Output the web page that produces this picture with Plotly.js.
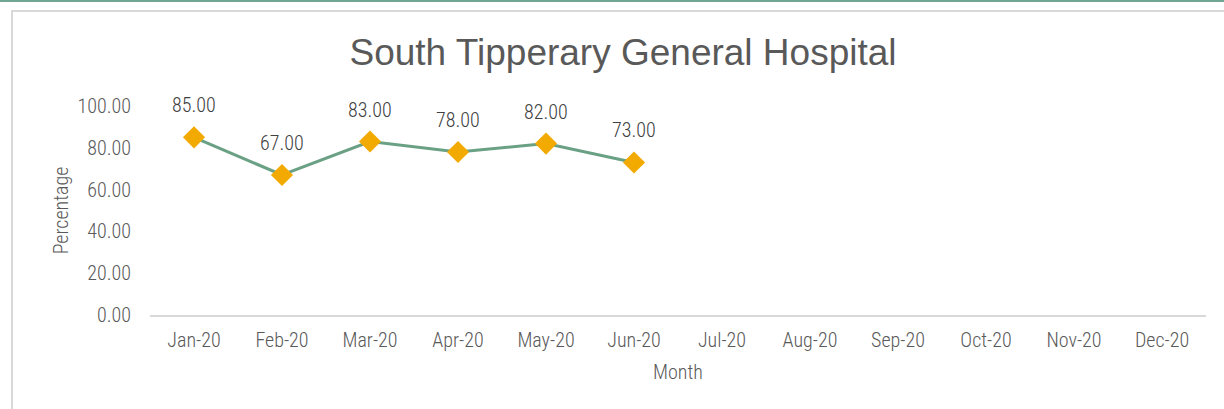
<!DOCTYPE html>
<html>
<head>
<meta charset="utf-8">
<script src="https://cdn.plot.ly/plotly-3.0.1.min.js"></script>
<style>
html,body{margin:0;padding:0;background:#fff;}
#wrap{position:relative;width:1224px;height:409px;overflow:hidden;}
#chart{position:absolute;left:0;top:0;width:1224px;height:409px;}
#teal{position:absolute;left:0;top:0;width:1224px;height:2px;background:#6FA593;pointer-events:none;}
#frame{position:absolute;left:11px;top:10px;width:1230px;height:420px;border:2px solid #D9D9D9;box-sizing:border-box;pointer-events:none;}
</style>
</head>
<body>
<div id="wrap">
<div id="chart"></div>
<div id="frame"></div>
<div id="teal"></div>
</div>
<script>
const months = ["Jan-20","Feb-20","Mar-20","Apr-20","May-20","Jun-20","Jul-20","Aug-20","Sep-20","Oct-20","Nov-20","Dec-20"];
const dataMonths = ["Jan-20","Feb-20","Mar-20","Apr-20","May-20","Jun-20"];
const percentages = [85, 67, 83, 78, 82, 73];
const yTicks = [0, 20, 40, 60, 80, 100];

const narrow = "Liberation Sans Narrow, Arial Narrow, Roboto Condensed, Liberation Sans, Arial, sans-serif";

const trace = {
  type: "scatter",
  mode: "lines+markers",
  x: dataMonths,
  y: percentages,
  line: {color: "#6AA084", width: 3},
  marker: {symbol: "diamond", size: 17, color: "#F2A900", line: {width: 0}},
  hoverinfo: "skip",
  cliponaxis: false
};

const annotations = dataMonths.map((m, i) => ({
  x: m, y: percentages[i], xref: "x", yref: "y",
  text: percentages[i].toFixed(2),
  showarrow: false, yshift: 32,
  font: {family: narrow, size: 20, color: "#404040", weight: 300}
}));

const layout = {
  width: 1224, height: 409,
  margin: {l: 150, r: 18, t: 106, b: 94},
  paper_bgcolor: "#ffffff",
  plot_bgcolor: "#ffffff",
  showlegend: false,
  title: {
    text: "South Tipperary General Hospital",
    font: {family: "Liberation Sans, Arial, sans-serif", size: 37, color: "#595959"},
    x: 0.509, xref: "container", xanchor: "center",
    y: 0.872, yref: "container", yanchor: "middle"
  },
  xaxis: {
    type: "category",
    categoryorder: "array",
    categoryarray: months,
    tickvals: months,
    range: [-0.5, 11.5],
    showgrid: false, zeroline: false,
    showline: true, linecolor: "#D9D9D9", linewidth: 2,
    ticks: "outside", ticklen: 6, tickcolor: "rgba(0,0,0,0)",
    tickfont: {family: narrow, size: 20, color: "#595959", weight: 300},
    title: {text: "Month", standoff: 14, font: {family: narrow, size: 20, color: "#595959", weight: 300}}
  },
  yaxis: {
    range: [0, 100],
    tickvals: yTicks,
    tickformat: ".2f",
    showgrid: false, zeroline: false, showline: false,
    ticks: "outside", ticklen: 14, tickcolor: "rgba(0,0,0,0)",
    tickfont: {family: narrow, size: 20, color: "#595959", weight: 300},
    title: {text: "Percentage", standoff: 3, font: {family: narrow, size: 20, color: "#595959", weight: 300}}
  },
  annotations: annotations
};

Plotly.newPlot("chart", [trace], layout, {displayModeBar: false, staticPlot: true});
</script>
</body>
</html>
